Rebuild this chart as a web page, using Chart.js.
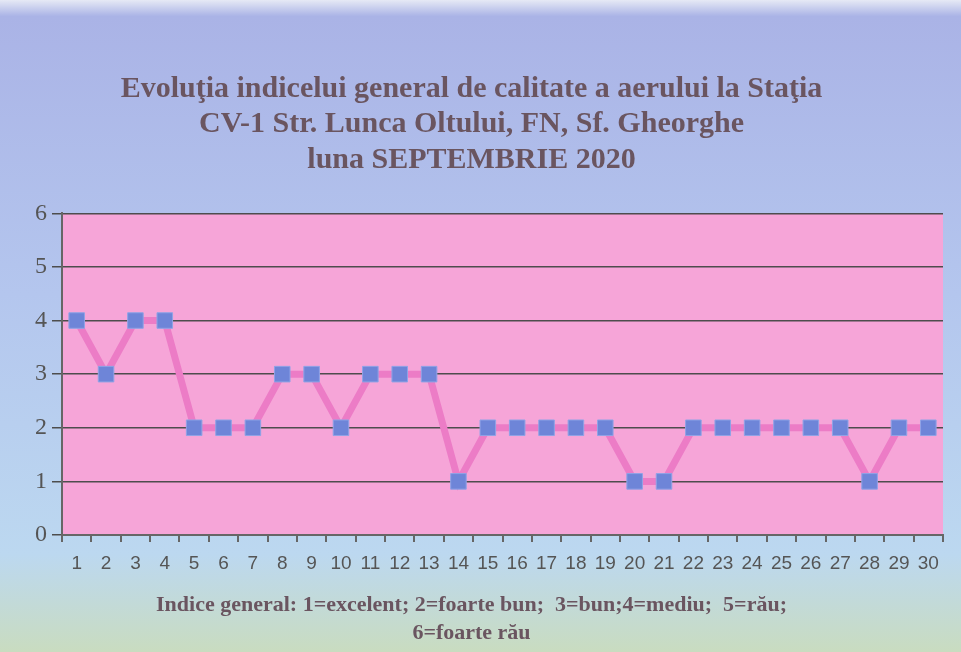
<!DOCTYPE html>
<html>
<head>
<meta charset="utf-8">
<script src="https://cdn.jsdelivr.net/npm/chart.js@4.4.0/dist/chart.umd.min.js"></script>
<style>
  html, body { margin: 0; padding: 0; background: #b7c8ee; }
</style>
</head>
<body>
<canvas id="grafic" width="961" height="652"></canvas>
<script>
// zilele lunii si indicele general
var zile = ['1','2','3','4','5','6','7','8','9','10','11','12','13','14','15',
            '16','17','18','19','20','21','22','23','24','25','26','27','28','29','30'];
var indice = [4,3,4,4,2,2,2,3,3,2,3,3,3,1,2,2,2,2,2,1,1,2,2,2,2,2,2,1,2,2];
var ticksY = [0,1,2,3,4,5,6];

var titlu = [
  'Evoluţia indicelui general de calitate a aerului la Staţia',
  'CV-1 Str. Lunca Oltului, FN, Sf. Gheorghe',
  'luna SEPTEMBRIE 2020'
];
var legenda = [
  'Indice general: 1=excelent; 2=foarte bun;  3=bun;4=mediu;  5=rău;',
  '6=foarte rău'
];

// fundalul: degrade albastru -> verde si zona roz a graficului
var fundal = {
  id: 'fundal',
  beforeDraw: function(chart) {
    var ctx = chart.ctx;
    var g = ctx.createLinearGradient(0, 0, 0, chart.height);
    g.addColorStop(0, '#e6e9f5');
    g.addColorStop(0.025, '#aab3e6');
    g.addColorStop(0.45, '#b4c6ee');
    g.addColorStop(0.85, '#bcd8f0');
    g.addColorStop(1, '#c9dcc0');
    ctx.save();
    ctx.fillStyle = g;
    ctx.fillRect(0, 0, chart.width, chart.height);
    var a = chart.chartArea;
    ctx.fillStyle = '#f6a5d8';
    ctx.fillRect(a.left, a.top, a.right - a.left, a.bottom - a.top);
    ctx.restore();
  }
};

var ctx = document.getElementById('grafic').getContext('2d');
var grafic = new Chart(ctx, {
  type: 'line',
  data: {
    labels: zile,
    datasets: [{
      data: indice,
      borderColor: '#ec7cc6',
      borderWidth: 7,
      pointStyle: 'rect',
      pointRadius: 11,
      pointBackgroundColor: '#6e85d8',
      pointBorderColor: '#8fa3e6',
      pointBorderWidth: 1,
      tension: 0
    }]
  },
  options: {
    responsive: false,
    animation: false,
    layout: { padding: { left: 0, right: 18, top: 0, bottom: 4 } },
    plugins: {
      legend: { display: false },
      tooltip: { enabled: false },
      title: {
        display: true,
        text: titlu,
        color: '#6a5560',
        font: { family: 'Liberation Serif', size: 30, weight: 'bold', lineHeight: 1.17 },
        padding: { top: 72, bottom: 36 }
      },
      subtitle: {
        display: true,
        position: 'bottom',
        text: legenda,
        color: '#6a5560',
        font: { family: 'Liberation Serif', size: 22, weight: 'bold', lineHeight: 1.3 },
        padding: { top: 6, bottom: 0 }
      }
    },
    scales: {
      x: {
        offset: true,
        grid: {
          offset: true,
          drawOnChartArea: false,
          drawTicks: true,
          tickLength: 7,
          color: '#666',
          lineWidth: 2
        },
        border: { color: '#666', width: 2 },
        ticks: {
          color: '#555',
          padding: 10,
          autoSkip: false,
          maxRotation: 0,
          font: { family: 'Liberation Sans', size: 19 }
        }
      },
      y: {
        min: 0,
        max: 6,
        afterFit: function(scale) { scale.width = 62; },
        afterBuildTicks: function(scale) {
          scale.ticks = ticksY.map(function(v) { return { value: v }; });
        },
        grid: {
          color: '#4d4d4d',
          lineWidth: 1.5,
          tickLength: 10
        },
        border: { color: '#666', width: 2 },
        ticks: {
          color: '#555',
          padding: 5,
          autoSkip: false,
          stepSize: 1,
          font: { family: 'Liberation Serif', size: 24 }
        }
      }
    }
  },
  plugins: [fundal]
});
</script>
</body>
</html>
